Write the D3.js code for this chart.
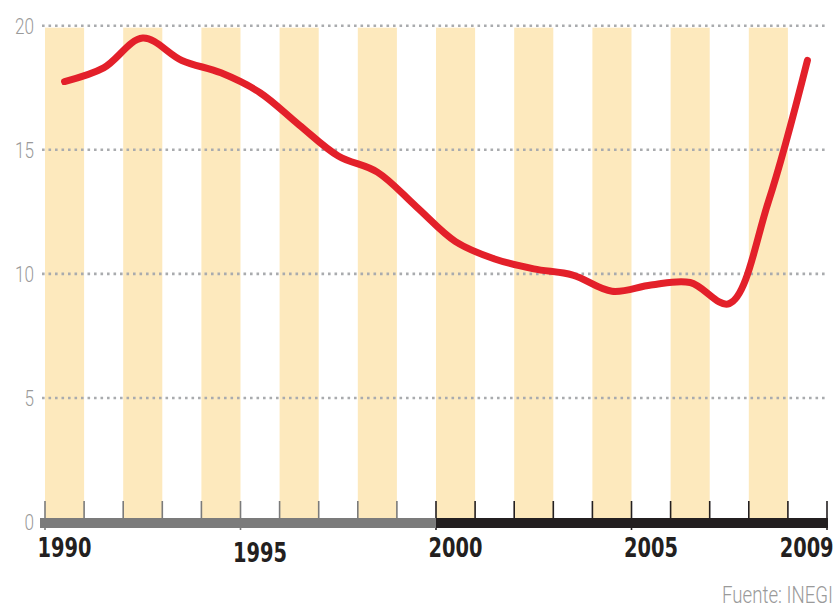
<!DOCTYPE html>
<html>
<head>
<meta charset="utf-8">
<script src="https://cdn.jsdelivr.net/npm/d3@7"></script>
<style>
  body { margin: 0; background: #fff; }
  svg { display: block; }
</style>
</head>
<body>
<div id="chart"></div>
<script>
// data
var years = [1990, 1991, 1992, 1993, 1994, 1995, 1996, 1997, 1998, 1999,
             2000, 2001, 2002, 2003, 2004, 2005, 2006, 2007, 2008, 2009];
var values = [17.75, 18.3, 19.5, 18.6, 18.1, 17.3, 16.0, 14.75, 14.1, 12.7,
              11.3, 10.6, 10.2, 9.95, 9.3, 9.55, 9.65, 8.8, 12.9, 18.6];
var yTicks = [0, 5, 10, 15, 20];
var xLabels = [1990, 1995, 2000, 2005, 2009];
var source = "Fuente: INEGI";

(function () {
    var width = 840, height = 607;
    var thinFont = "Roboto, 'Liberation Sans', sans-serif";
    var boldFont = "'DejaVu Sans Condensed', 'Liberation Sans', sans-serif";

    // squeeze a text horizontally so it is w pixels wide (condensed look)
    function squeeze(sel, w, pre) {
        sel.each(function (d) {
            var target = typeof w === "function" ? w(d) : w;
            var s = target / this.getComputedTextLength();
            d3.select(this).attr("transform", (pre || "") + "scale(" + s + ",1)");
        });
    }

    var svg = d3.select("#chart").append("svg")
        .attr("width", width)
        .attr("height", height);

    var x = d3.scaleBand()
        .domain(years)
        .range([45, 827])
        .padding(0);

    // boundaries between years, for the small ticks
    var xEdge = d3.scaleLinear()
        .domain([1990, 2010])
        .range([45, 827]);

    var y = d3.scaleLinear()
        .domain([0, 20])
        .range([522, 25.7]);

    /* yellow stripes on the even years */
    svg.append("g").selectAll("rect")
        .data(years.filter(function (d) { return d % 2 === 0; }))
        .enter().append("rect")
        .attr("x", function (d) { return x(d); })
        .attr("y", y(20) + 2)
        .attr("width", x.bandwidth())
        .attr("height", 518 - y(20) - 2)
        .attr("fill", "#fde9bd");

    /* dotted grid */
    svg.append("g").selectAll("line")
        .data(yTicks.filter(function (d) { return d > 0; }))
        .enter().append("line")
        .attr("x1", 42)
        .attr("x2", 827)
        .attr("y1", function (d) { return y(d); })
        .attr("y2", function (d) { return y(d); })
        .attr("stroke", "#a9abae")
        .attr("stroke-width", 2.6)
        .attr("stroke-dasharray", "2.6 3.9");

    /* y labels */
    var yAxis = svg.append("g")
        .attr("transform", "translate(34,0)")
        .call(d3.axisLeft(y).tickValues(yTicks).tickSize(0).tickPadding(0));
    yAxis.select(".domain").remove();
    yAxis.selectAll("text")
        .attr("font-family", thinFont)
        .attr("font-weight", 300)
        .attr("font-size", 22)
        .attr("fill", "#9a9a9a")
        .attr("dy", "0.36em")
        .call(squeeze, function (d) { return String(d).length * 9.5; });

    /* year boundary ticks */
    var tickYears = d3.range(1990, 2011);
    svg.append("g").selectAll("line")
        .data(tickYears)
        .enter().append("line")
        .attr("x1", function (d) { return xEdge(d); })
        .attr("x2", function (d) { return xEdge(d); })
        .attr("y1", 501)
        .attr("y2", function (d) { return d % 5 === 0 ? 530 : 518; })
        .attr("stroke", function (d) { return d < 2000 ? "#7b7b7b" : "#231f20"; })
        .attr("stroke-width", 1.6);

    /* axis bar: grey for the 90s, black after */
    svg.append("rect")
        .attr("x", 40).attr("y", 518)
        .attr("width", xEdge(2000) - 40).attr("height", 10)
        .attr("fill", "#7b7b7b");
    svg.append("rect")
        .attr("x", xEdge(2000)).attr("y", 518)
        .attr("width", xEdge(2010) - xEdge(2000) + 1).attr("height", 10)
        .attr("fill", "#231f20");

    /* year labels */
    var xAxis = svg.append("g")
        .attr("transform", "translate(0,557)")
        .call(d3.axisBottom(x).tickValues(xLabels).tickSize(0).tickPadding(0));
    xAxis.select(".domain").remove();
    xAxis.selectAll("text")
        .attr("font-family", boldFont)
        .attr("font-weight", "bold")
        .attr("font-size", 26)
        .attr("fill", "#231f20")
        .attr("x", function (d) { return d === 2009 ? -1 : 0; })
        .attr("y", function (d) { return d === 1995 ? 5 : 0; })
        .attr("dy", 0)
        .call(squeeze, 54);

    /* the red line */
    var line = d3.line()
        .x(function (d, i) { return x(years[i]) + x.bandwidth() / 2; })
        .y(function (d) { return y(d); })
        .curve(d3.curveCatmullRom.alpha(0.5));

    svg.append("path")
        .datum(values)
        .attr("d", line)
        .attr("fill", "none")
        .attr("stroke", "#e3202a")
        .attr("stroke-width", 7)
        .attr("stroke-linecap", "round")
        .attr("stroke-linejoin", "round");

    svg.append("text")
        .attr("text-anchor", "end")
        .attr("font-family", thinFont)
        .attr("font-weight", 300)
        .attr("font-size", 23)
        .attr("fill", "#9a9a9a")
        .text(source)
        .call(squeeze, 111, "translate(833,603) ");
})();
</script>
</body>
</html>
